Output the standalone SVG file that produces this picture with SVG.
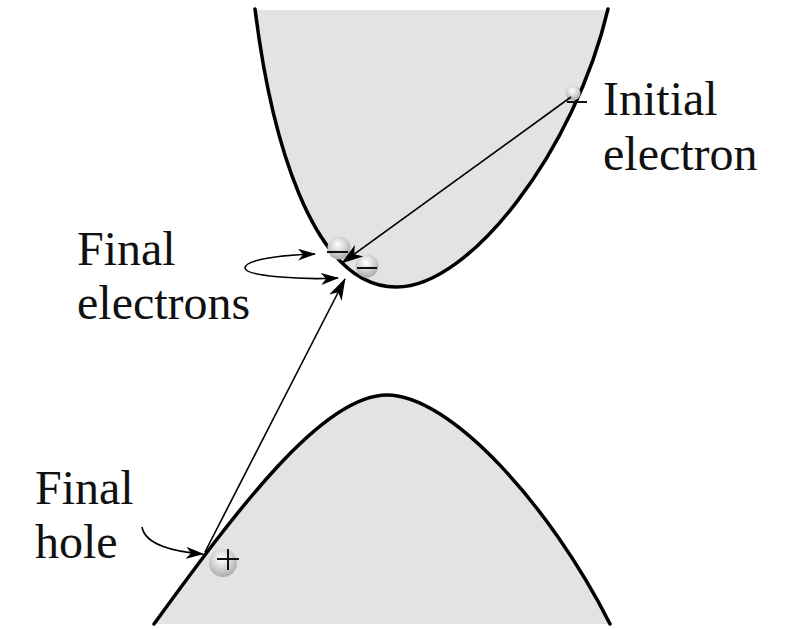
<svg xmlns="http://www.w3.org/2000/svg" width="790" height="630" viewBox="0 0 790 630">
<style>
.band{fill:#e3e3e3;stroke:none}
.edge{fill:none;stroke:#000;stroke-width:3.5;stroke-linecap:round}
.conn{fill:none;stroke:#000;stroke-width:1.6}
.lbl{font-family:"Liberation Serif","Times New Roman",serif;font-size:48px;fill:#111}
.sign{stroke:#111;stroke-width:2;fill:none}
.ball{fill:url(#sph)}
</style>
<defs>
<radialGradient id="sph" cx="0.45" cy="0.35" r="0.65">
<stop offset="0" stop-color="#ffffff"/>
<stop offset="0.45" stop-color="#dcdcdc"/>
<stop offset="1" stop-color="#ababab"/>
</radialGradient>
<marker id="ah" viewBox="0 0 22 14" refX="21" refY="7" markerWidth="22" markerHeight="14" markerUnits="userSpaceOnUse" orient="auto-start-reverse">
<path d="M0,0 L22,7 L0,14 L6,7 Z" fill="#000"/>
</marker>
<marker id="ahs" viewBox="0 0 18 12" refX="17" refY="6" markerWidth="18" markerHeight="12" markerUnits="userSpaceOnUse" orient="auto-start-reverse">
<path d="M0,0 L18,6 L0,12 L5,6 Z" fill="#000"/>
</marker>
</defs>
<g id="conduction-band">
<path class="band" d="M255,10 C270,130 310,288 397,287 C470,287 575,150 608,10 Z"/>
<path class="edge" d="M255,9 C270,130 310,288 397,287 C470,287 575,150 608,9"/>
</g>
<g id="valence-band">
<path class="band" d="M154,624 C230,520 320,395 387,395 C450,395 550,505 610,624 Z"/>
<path class="edge" d="M154,624 C230,520 320,395 387,395 C450,395 550,505 610,624"/>
</g>
<g id="initial-electron">
<circle class="ball" cx="573" cy="93" r="7.5"/>
<line class="sign" x1="567" y1="102" x2="587" y2="102"/>
</g>
<g id="final-electrons">
<circle class="ball" cx="339" cy="248" r="11.5"/>
<line class="sign" x1="327" y1="252" x2="348" y2="252"/>
<circle class="ball" cx="367" cy="266" r="11.5"/>
<line class="sign" x1="357" y1="268" x2="377" y2="268"/>
</g>
<g id="final-hole">
<circle class="ball" cx="223" cy="563" r="14"/>
<line class="sign" x1="217" y1="559" x2="239" y2="559" stroke-width="1.5"/>
<line class="sign" x1="228" y1="549" x2="228" y2="570" stroke-width="1.5"/>
</g>
<g id="connectors">
<line class="conn" x1="571" y1="97" x2="342" y2="263" marker-end="url(#ah)"/>
<line class="conn" x1="205" y1="552" x2="345" y2="279" marker-end="url(#ah)"/>
<path class="conn" d="M338,278 C300,280 245,276 245,268 C245,259 285,255 315,254" marker-start="url(#ahs)" marker-end="url(#ahs)"/>
<path class="conn" d="M142,527 C145,545 175,552 203,554" marker-end="url(#ahs)"/>
</g>
<g id="labels">
<text class="lbl" x="603" y="115">Initial</text>
<text class="lbl" x="603" y="170">electron</text>
<text class="lbl" x="77" y="265">Final</text>
<text class="lbl" x="77" y="319">electrons</text>
<text class="lbl" x="35" y="504">Final</text>
<text class="lbl" x="35" y="558">hole</text>
</g>
</svg>
